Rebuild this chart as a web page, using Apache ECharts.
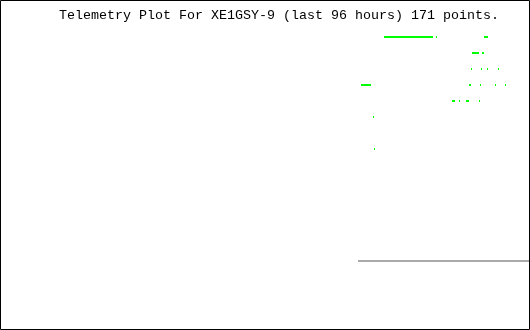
<!DOCTYPE html>
<html>
<head>
<meta charset="utf-8">
<script src="https://cdn.jsdelivr.net/npm/echarts@6/dist/echarts.min.js"></script>
<style>
  html, body { margin: 0; padding: 0; background: #fff; }
  #chart { width: 530px; height: 330px; }
</style>
</head>
<body>
<div id="chart"></div>
<script>
// Telemetry for XE1GSY-9 over the last 96 hours.
// Time is in hours relative to now (negative = past).
const titleText = 'Telemetry Plot For XE1GSY-9 (last 96 hours) 171 points.';
const hoursSpan = 96;

// Digital channels: each entry is [startHour, endHour] where the bit was on
// (a single sample has start == end).
const bit1 = [[-26.36, -17.45], [-16.91, -16.91], [-8.18, -7.45]];
const bit2 = [[-10.36, -9.09], [-8.55, -8.18]];
const bit3 = [[-10.55, -10.55], [-8.73, -8.73], [-7.64, -7.64], [-5.64, -5.64]];
const bit4 = [[-30.55, -28.73], [-10.91, -10.55], [-8.91, -8.91], [-6.18, -6.18], [-4.36, -4.36]];
const bit5 = [[-14.00, -13.45], [-12.73, -12.73], [-11.45, -10.91], [-9.09, -9.09]];
const bit6 = [[-28.36, -28.36]];
const bit7 = [];
const bit8 = [[-28.18, -28.18]];
const bits = [bit1, bit2, bit3, bit4, bit5, bit6, bit7, bit8];

// Analog trace (flat) from the first packet up to now.
const analogTimes = [-31.09, 0];
const analogValues = [15, 15];

const bitData = [];
bits.forEach((list, i) => {
  list.forEach(([s, e]) => bitData.push([s, e, i + 1]));
});

const chart = echarts.init(document.getElementById('chart'), null, { renderer: 'canvas' });

chart.setOption({
  animation: false,
  backgroundColor: '#ffffff',
  grid: { left: 1, right: 1, top: 21, bottom: 21 },
  xAxis: { type: 'value', min: -hoursSpan, max: 0, show: false },
  yAxis: { type: 'value', inverse: true, min: 0, max: 18, show: false },
  graphic: [
    {
      type: 'rect',
      shape: { x: 0.5, y: 0.5, width: 529, height: 329 },
      style: { fill: 'none', stroke: '#000', lineWidth: 1 },
      z: 100
    },
    {
      type: 'text',
      x: 59,
      y: 22,
      style: {
        text: titleText,
        font: '13.33px "Liberation Mono", "DejaVu Sans Mono", monospace',
        fill: '#000',
        textVerticalAlign: 'bottom'
      }
    }
  ],
  series: [
    {
      type: 'line',
      data: analogTimes.map((t, i) => [t, analogValues[i]]),
      symbol: 'none',
      lineStyle: { color: '#aaaaaa', width: 2 },
      silent: true
    },
    {
      type: 'custom',
      data: bitData,
      renderItem: function (params, api) {
        const p0 = api.coord([api.value(0), api.value(2)]);
        const p1 = api.coord([api.value(1), api.value(2)]);
        const x = Math.round(p0[0]);
        const w = Math.max(1, Math.round(p1[0]) - x);
        const y = Math.round(p0[1]) - 1;
        return {
          type: 'rect',
          shape: { x: x, y: y, width: w, height: 2 },
          style: { fill: '#00ff00' }
        };
      },
      silent: true
    }
  ]
});
</script>
</body>
</html>
